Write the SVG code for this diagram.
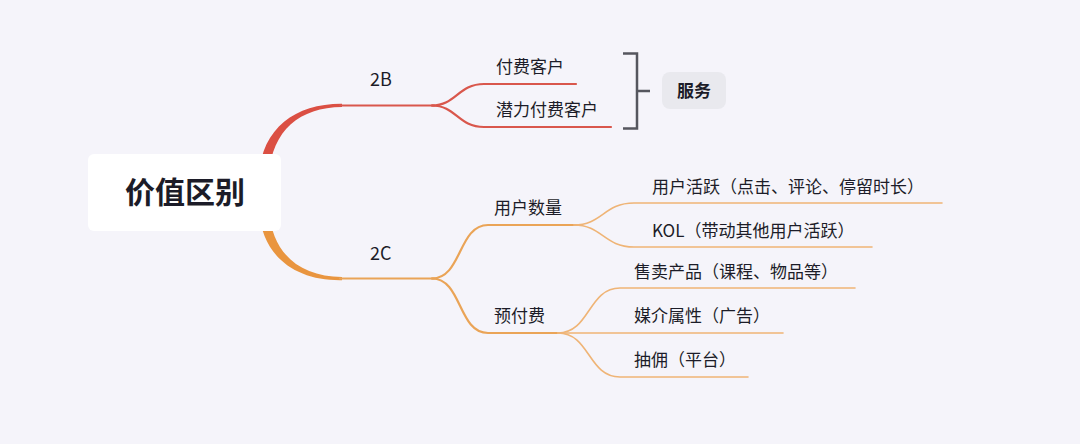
<svg xmlns="http://www.w3.org/2000/svg" width="1080" height="444" viewBox="0 0 1080 444">
<style>
.t{font-family:"Noto Sans CJK SC","Noto Sans",sans-serif;fill:#1c1c28;font-size:17px}
.b{font-weight:bold}
.red{fill:none;stroke:#d9574c;stroke-width:2.2;stroke-linecap:round}
.org{fill:none;stroke:#eaa457;stroke-width:2.2;stroke-linecap:round}
.org2{fill:none;stroke:#efb476;stroke-width:1.6;stroke-linecap:round}
.brk{fill:none;stroke:#55565e;stroke-width:2.5}
</style>
<rect width="1080" height="444" fill="#f5f4fa"/>
<g id="connectors">
<path d="M259 175 C262 128 296 103.5 342 103.8 L342 107 C300 107.5 272 130 269 175 Z" fill="#db4f43"/>
<path class="red" d="M340 105.5 L434 105.5"/>
<path class="red" d="M432 105.5 C456 105.5 458 84 484 84 L576 84"/>
<path class="red" d="M432 105.5 C456 105.5 458 127 484 127 L611 127"/>
<path d="M259 210 C262 257 296 281 342 280.2 L342 277 C300 276.5 272 254 269 210 Z" fill="#e9953f"/>
<path class="org" d="M340 278.5 L434 278.5"/>
<path class="org" d="M432 278.5 C462 278.5 458 225 488 225 L577 225"/>
<path class="org" d="M432 278.5 C462 278.5 458 333 488 333 L560 333"/>
<path class="org2" d="M574 225 C602 225 604 203 634 203 L942 203"/>
<path class="org2" d="M574 225 C602 225 604 247 634 247 L872 247"/>
<path class="org2" d="M558 333 C590 333 588 288 620 288 L855 288"/>
<path class="org2" d="M558 333 L783 333"/>
<path class="org2" d="M558 333 C590 333 588 377 620 377 L748 377"/>
<path class="brk" d="M623 53.5 L637 53.5 L637 128.5 L623 128.5 M637 91 L650 91"/>
</g>
<g id="root">
<rect x="88" y="154" width="193" height="77" rx="6" fill="#ffffff"/>
<text class="t b" x="185" y="203" text-anchor="middle" style="font-size:30px">价值区别</text>
</g>
<g id="n2B"><text class="t" x="370" y="86" style="font-size:18px">2B</text></g>
<g id="n2C"><text class="t" x="370" y="260" style="font-size:18px">2C</text></g>
<g id="nPay"><text class="t" x="496" y="73">付费客户</text></g>
<g id="nPotential"><text class="t" x="496" y="116">潜力付费客户</text></g>
<g id="nService">
<rect x="662" y="72" width="64" height="37" rx="8" fill="#e9e9ee"/>
<text class="t b" x="694" y="97" text-anchor="middle">服务</text>
</g>
<g id="nUsers"><text class="t" x="494" y="214">用户数量</text></g>
<g id="nPrepay"><text class="t" x="494" y="322">预付费</text></g>
<g id="nActive"><text class="t" x="652" y="193">用户活跃（点击、评论、停留时长）</text></g>
<g id="nKOL"><text class="t" x="652" y="237">KOL（带动其他用户活跃）</text></g>
<g id="nSell"><text class="t" x="634" y="278">售卖产品（课程、物品等）</text></g>
<g id="nMedia"><text class="t" x="634" y="322">媒介属性（广告）</text></g>
<g id="nCommission"><text class="t" x="634" y="366">抽佣（平台）</text></g>
</svg>
